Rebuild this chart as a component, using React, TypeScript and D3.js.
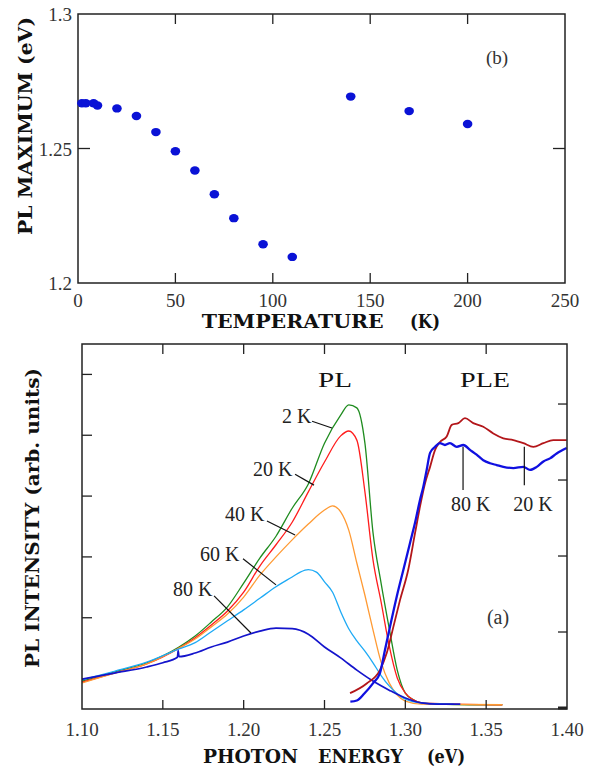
import React from "react";
import * as d3 from "d3";

// ---------- (b) PL maximum vs temperature ----------
const temps = [2, 4, 8, 10, 20, 30, 40, 50, 60, 70, 80, 95, 110, 140, 170, 200];
const peaks = [1.2668, 1.2668, 1.2668, 1.266, 1.2649, 1.2621, 1.2561, 1.249, 1.2418, 1.233, 1.2241, 1.2144, 1.2097, 1.2693, 1.2639, 1.2591];
const tempTicks = [0, 50, 100, 150, 200, 250];
const peakTicks = [1.2, 1.25, 1.3];
const peakTickLabels = ["1.2", "1.25", "1.3"];

// ---------- (a) PL / PLE spectra (energy eV, intensity arb.) ----------
const PL_2K: [number, number][] = [
  [1.10, 0.46], [1.12, 0.61], [1.14, 0.76], [1.16, 1.02], [1.17, 1.2], [1.18, 1.43], [1.19, 1.68],
  [1.20, 2.07], [1.21, 2.48], [1.22, 2.84], [1.23, 3.3], [1.24, 3.7], [1.25, 4.37], [1.26, 4.83],
  [1.265, 5.0], [1.27, 4.95], [1.275, 4.37], [1.28, 2.9], [1.285, 2.07], [1.29, 1.33],
  [1.295, 0.64], [1.30, 0.26], [1.305, 0.15], [1.31, 0.1], [1.32, 0.08], [1.34, 0.07], [1.36, 0.07],
];
const PL_20K: [number, number][] = [
  [1.10, 0.44], [1.12, 0.59], [1.14, 0.74], [1.16, 1.0], [1.17, 1.17], [1.18, 1.38], [1.19, 1.61],
  [1.20, 1.92], [1.21, 2.35], [1.22, 2.7], [1.23, 3.07], [1.24, 3.57], [1.25, 4.06], [1.26, 4.49],
  [1.265, 4.57], [1.27, 4.42], [1.275, 3.57], [1.28, 2.45], [1.285, 1.76], [1.29, 1.04],
  [1.295, 0.51], [1.30, 0.26], [1.305, 0.15], [1.31, 0.1], [1.33, 0.08], [1.36, 0.07],
];
const PL_40K: [number, number][] = [
  [1.10, 0.43], [1.12, 0.59], [1.14, 0.74], [1.16, 1.0], [1.17, 1.15], [1.18, 1.35], [1.19, 1.56],
  [1.20, 1.84], [1.21, 2.2], [1.22, 2.5], [1.23, 2.78], [1.24, 3.04], [1.25, 3.27], [1.255, 3.34],
  [1.26, 3.24], [1.265, 2.94], [1.27, 2.4], [1.275, 1.87], [1.28, 1.3], [1.285, 0.77],
  [1.29, 0.43], [1.295, 0.23], [1.30, 0.13], [1.31, 0.08], [1.36, 0.07],
];
const PL_60K: [number, number][] = [
  [1.10, 0.48], [1.12, 0.62], [1.14, 0.77], [1.16, 0.99], [1.17, 1.09], [1.18, 1.27], [1.19, 1.45],
  [1.20, 1.63], [1.21, 1.82], [1.22, 2.01], [1.23, 2.17], [1.235, 2.25], [1.24, 2.29], [1.245, 2.25],
  [1.25, 2.09], [1.255, 1.92], [1.26, 1.6], [1.265, 1.32], [1.27, 1.12], [1.275, 0.95],
  [1.28, 0.76], [1.285, 0.55], [1.29, 0.38], [1.295, 0.25], [1.30, 0.16], [1.31, 0.1], [1.33, 0.08],
];
const PL_80K: [number, number][] = [
  [1.10, 0.49], [1.12, 0.59], [1.14, 0.69], [1.15, 0.76], [1.159, 0.85], [1.1595, 0.96], [1.160, 0.86],
  [1.17, 0.92], [1.18, 1.02], [1.19, 1.1], [1.20, 1.2], [1.21, 1.28], [1.22, 1.33], [1.23, 1.32],
  [1.24, 1.23], [1.25, 1.02], [1.26, 0.84], [1.27, 0.64], [1.28, 0.46], [1.29, 0.31],
  [1.30, 0.18], [1.31, 0.1], [1.32, 0.08], [1.334, 0.08],
];
const PLE_80K: [number, number][] = [
  [1.266, 0.12], [1.27, 0.14], [1.2745, 0.25], [1.2802, 0.43], [1.2843, 0.59], [1.2874, 0.97],
  [1.2905, 1.35], [1.2947, 1.85], [1.2988, 2.29], [1.3029, 2.73], [1.306, 3.06],
  [1.3091, 3.44], [1.3111, 3.65], [1.3132, 3.93], [1.3153, 4.21], [1.3184, 4.31], [1.3214, 4.37],
  [1.3245, 4.34], [1.3276, 4.37], [1.3318, 4.31], [1.3359, 4.34], [1.34, 4.26], [1.3441, 4.18],
  [1.3482, 4.09], [1.3524, 4.04], [1.3565, 4.01], [1.3606, 3.98], [1.3668, 3.96], [1.373, 3.98],
  [1.3771, 3.93], [1.3813, 3.98], [1.3854, 4.07], [1.3895, 4.12], [1.3936, 4.2], [1.3998, 4.29],
];
const PLE_20K: [number, number][] = [
  [1.2658, 0.26], [1.2761, 0.42], [1.2843, 0.64], [1.2885, 0.92], [1.2926, 1.35],
  [1.2967, 1.79], [1.3018, 2.29], [1.306, 2.89], [1.3091, 3.33],
  [1.3122, 3.71], [1.3153, 3.98], [1.3184, 4.26], [1.3214, 4.39], [1.3256, 4.48], [1.3287, 4.67],
  [1.3328, 4.7], [1.3369, 4.78], [1.342, 4.7], [1.3482, 4.64], [1.3544, 4.53], [1.3606, 4.45],
  [1.3668, 4.42], [1.373, 4.37], [1.3792, 4.31], [1.3854, 4.37], [1.3915, 4.42], [1.3998, 4.42],
];
const energyTicks = [1.1, 1.15, 1.2, 1.25, 1.3, 1.35, 1.4];
const leftIntensityTicks = [1.5, 2.5, 3.5, 4.5, 5.5];
const rightIntensityTicks = [0, 1, 2, 3, 4];

const seriesNames = ["2 K", "20 K", "40 K", "60 K", "80 K", "PLE 20 K", "PLE 80 K"];
const seriesData = [PL_2K, PL_20K, PL_40K, PL_60K, PL_80K, PLE_20K, PLE_80K];
const seriesColors = ["#1f8c1f", "#ff1c1c", "#ff9a33", "#1eaaf5", "#1414cc", "#b3161a", "#1010e0"];
const seriesWidths = [1.3, 1.3, 1.3, 1.3, 1.7, 1.8, 2.3];

// annotation labels (label anchor and leader line in data units)
const annLabels = ["2 K", "20 K", "40 K", "60 K", "80 K", "80 K", "20 K"];
const annTextPos: [number, number][] = [[1.2237, 4.7], [1.2058, 3.83], [1.1885, 3.09], [1.173, 2.43], [1.1563, 1.86], [1.3283, 3.26], [1.3667, 3.26]];
const annLineFrom: [number, number][] = [[1.2423, 4.73], [1.2318, 3.86], [1.2144, 3.09], [1.1996, 2.47], [1.1817, 1.86], [1.3357, 4.31], [1.3736, 4.31]];
const annLineTo: [number, number][] = [[1.2546, 4.62], [1.2435, 3.68], [1.2318, 2.86], [1.22, 2.04], [1.2045, 1.25], [1.3357, 3.6], [1.3736, 3.68]];

const FONT = "'Liberation Serif', 'Times New Roman', serif";
const TITLE_FONT = "'DejaVu Serif', serif";
const AX = "#222";

export default function App() {
  // top panel scales
  const xT = d3.scaleLinear().domain([0, 250]).range([78, 565]);
  const yT = d3.scaleLinear().domain([1.2, 1.3]).range([283, 14]);
  // bottom panel scales
  const xB = d3.scaleLinear().domain([1.1, 1.4]).range([82, 567]);
  const yB = d3.scaleLinear().domain([0, 6]).range([709, 344]);
  const yR = d3.scaleLinear().domain([0, 4.79]).range([708, 344]);

  const line = d3
    .line<[number, number]>()
    .x((d) => xB(d[0]))
    .y((d) => yB(d[1]))
    .curve(d3.curveMonotoneX);

  const [tx0, tx1] = xT.range();
  const [ty0, ty1] = [yT(1.3), yT(1.2)];
  const [bx0, bx1] = xB.range();
  const [by0, by1] = [yB(6), yB(0)];

  return (
    <svg width={590} height={767} style={{ position: "absolute", left: 0, top: 0, background: "#fff" }}>
      <rect x={0} y={0} width={590} height={767} fill="#fff" />
      {/* ================= TOP PANEL ================= */}
      <rect x={tx0} y={ty0} width={tx1 - tx0} height={ty1 - ty0} fill="none" stroke={AX} strokeWidth={1.5} />
      {tempTicks.slice(1, -1).map((t) => (
        <g key={"tt" + t}>
          <line x1={xT(t)} x2={xT(t)} y1={ty0} y2={ty0 + 10} stroke={AX} strokeWidth={1.3} />
          <line x1={xT(t)} x2={xT(t)} y1={ty1} y2={ty1 - 10} stroke={AX} strokeWidth={1.3} />
        </g>
      ))}
      {peakTicks.slice(1, -1).map((p) => (
        <g key={"pt" + p}>
          <line x1={tx0} x2={tx0 + 12} y1={yT(p)} y2={yT(p)} stroke={AX} strokeWidth={1.3} />
          <line x1={tx1} x2={tx1 - 12} y1={yT(p)} y2={yT(p)} stroke={AX} strokeWidth={1.3} />
        </g>
      ))}
      {tempTicks.map((t) => (
        <text key={"tl" + t} x={xT(t)} y={307} textAnchor="middle" fontFamily={FONT} fontSize={19} fill="#333">
          {t}
        </text>
      ))}
      {peakTicks.map((p, i) => (
        <text key={"pl" + p} x={72} y={yT(p) + 7} textAnchor="end" fontFamily={FONT} fontSize={19} fill="#333">
          {peakTickLabels[i]}
        </text>
      ))}
      {temps.map((t, i) => (
        <ellipse key={"pt" + i} cx={xT(t)} cy={yT(peaks[i])} rx={4.8} ry={4.2} fill="#0a12d6" />
      ))}
      <text x={497} y={64} textAnchor="middle" fontFamily={FONT} fontSize={19} fill="#333">(b)</text>
      <text x={201.7} y={328} fontFamily={TITLE_FONT} fontWeight="bold" fontSize={18} textLength={182} lengthAdjust="spacingAndGlyphs" fill="#111">
        TEMPERATURE
      </text>
      <text x={410} y={328} fontFamily={TITLE_FONT} fontWeight="bold" fontSize={18} textLength={30} lengthAdjust="spacingAndGlyphs" fill="#111">
        (K)
      </text>
      <text
        transform={`translate(32,126) rotate(-90)`}
        textAnchor="middle"
        fontFamily={TITLE_FONT}
        fontWeight="bold"
        fontSize={18}
        textLength={218}
        lengthAdjust="spacingAndGlyphs"
        fill="#111"
      >
        PL MAXIMUM (eV)
      </text>

      {/* ================= BOTTOM PANEL ================= */}
      {seriesData.map((s, i) => (
        <path key={seriesNames[i]} d={line(s) || ""} fill="none" stroke={seriesColors[i]} strokeWidth={seriesWidths[i]} strokeLinejoin="round" />
      ))}
      <rect x={bx0} y={by0} width={bx1 - bx0} height={by1 - by0} fill="none" stroke={AX} strokeWidth={1.5} />
      {energyTicks.slice(1, -1).map((e) => (
        <g key={"et" + e}>
          <line x1={xB(e)} x2={xB(e)} y1={by0} y2={by0 + 10} stroke={AX} strokeWidth={1.3} />
          <line x1={xB(e)} x2={xB(e)} y1={by1} y2={by1 - 9} stroke={AX} strokeWidth={1.3} />
        </g>
      ))}
      {leftIntensityTicks.map((v) => (
        <line key={"lt" + v} x1={bx0} x2={bx0 + 10} y1={yB(v)} y2={yB(v)} stroke={AX} strokeWidth={1.3} />
      ))}
      {rightIntensityTicks.map((v) => (
        <line key={"rt" + v} x1={bx1} x2={bx1 - 9} y1={yR(v)} y2={yR(v)} stroke={AX} strokeWidth={v === 0 ? 3 : 1.3} />
      ))}
      {energyTicks.map((e) => (
        <text key={"el" + e} x={xB(e)} y={736} textAnchor="middle" fontFamily={FONT} fontSize={19} fill="#333">
          {e.toFixed(2)}
        </text>
      ))}
      {annLabels.map((lab, i) => (
        <g key={"ann" + i}>
          <line
            x1={xB(annLineFrom[i][0])}
            y1={yB(annLineFrom[i][1])}
            x2={xB(annLineTo[i][0])}
            y2={yB(annLineTo[i][1])}
            stroke="#111"
            strokeWidth={1.2}
          />
          <text x={xB(annTextPos[i][0])} y={yB(annTextPos[i][1])} fontFamily={FONT} fontSize={20} fill="#222">
            {lab}
          </text>
        </g>
      ))}
      <text x={335} y={387} textAnchor="middle" fontFamily={FONT} fontSize={22} textLength={34} lengthAdjust="spacingAndGlyphs" fill="#111">PL</text>
      <text x={485} y={387} textAnchor="middle" fontFamily={FONT} fontSize={22} textLength={50} lengthAdjust="spacingAndGlyphs" fill="#111">PLE</text>
      <text x={498} y={624} textAnchor="middle" fontFamily={FONT} fontSize={20} fill="#333">(a)</text>
      <text x={203} y={763} fontFamily={TITLE_FONT} fontWeight="bold" fontSize={18} textLength={95} lengthAdjust="spacingAndGlyphs" fill="#111">PHOTON</text>
      <text x={318} y={763} fontFamily={TITLE_FONT} fontWeight="bold" fontSize={18} textLength={85} lengthAdjust="spacingAndGlyphs" fill="#111">ENERGY</text>
      <text x={427} y={763} fontFamily={TITLE_FONT} fontWeight="bold" fontSize={18} textLength={38} lengthAdjust="spacingAndGlyphs" fill="#111">(eV)</text>
      <text
        transform={`translate(39,518) rotate(-90)`}
        textAnchor="middle"
        fontFamily={TITLE_FONT}
        fontWeight="bold"
        fontSize={18}
        textLength={300}
        lengthAdjust="spacingAndGlyphs"
        fill="#111"
      >
        PL INTENSITY (arb. units)
      </text>
    </svg>
  );
}
